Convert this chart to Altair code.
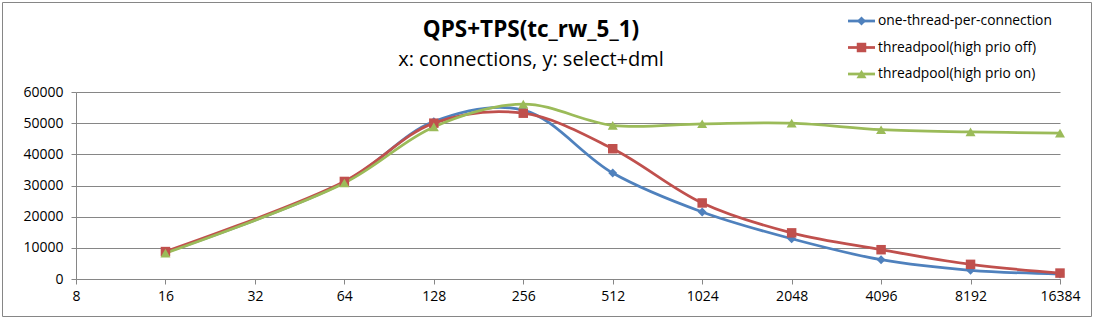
import altair as alt
import pandas as pd

connections = [16, 64, 128, 256, 512, 1024, 2048, 4096, 8192, 16384]
one_thread = [8500, 31000, 50500, 54200, 34000, 21500, 12900, 6200, 2800, 1600]
pool_off = [8800, 31300, 50000, 53200, 41800, 24400, 14800, 9400, 4700, 1900]
pool_on = [8300, 30800, 48800, 56100, 49300, 49800, 50000, 47900, 47200, 46800]
series_names = ["one-thread-per-connection", "threadpool(high prio off)", "threadpool(high prio on)"]
x_ticks = [8, 16, 32, 64, 128, 256, 512, 1024, 2048, 4096, 8192, 16384]
y_ticks = [0, 10000, 20000, 30000, 40000, 50000, 60000]
title_text = "QPS+TPS(tc_rw_5_1)"
subtitle_text = "x: connections, y: select+dml"

colors = ["#4F81BD", "#C0504D", "#9BBB59"]
shapes = ["diamond", "square", "triangle-up"]
sizes = [80, 100, 110]
FONT = "Open Sans"
GRID = "#868686"

rows = []
for name, vals in zip(series_names, [one_thread, pool_off, pool_on]):
    for c, v in zip(connections, vals):
        rows.append({"series": name, "connections": c, "qps": v})
df = pd.DataFrame(rows)
legend_df = pd.DataFrame({"series": series_names})

color_scale = alt.Scale(domain=series_names, range=colors)
shape_scale = alt.Scale(domain=series_names, range=shapes)
size_scale = alt.Scale(domain=series_names, range=sizes)

x_enc = alt.X("connections:Q",
              scale=alt.Scale(type="log", base=2, domain=[8, 16384], nice=False),
              axis=alt.Axis(values=x_ticks, format="d", title=None, grid=False,
                            tickSize=5, labelPadding=5, labelFlush=False,
                            labelFont=FONT, labelFontSize=14, labelColor="black",
                            domainColor=GRID, tickColor=GRID))
y_enc = alt.Y("qps:Q",
              scale=alt.Scale(domain=[0, 60000], nice=False),
              axis=alt.Axis(values=y_ticks, format="d", title=None, grid=True,
                            gridColor=GRID, gridWidth=1, tickSize=5, labelPadding=8,
                            labelFont=FONT, labelFontSize=14, labelColor="black",
                            domainColor=GRID, tickColor=GRID))

base = alt.Chart(df)
lines = base.mark_line(interpolate="catmull-rom", strokeWidth=2.75).encode(
    x=x_enc, y=y_enc,
    color=alt.Color("series:N", scale=color_scale, legend=None),
    detail="series:N",
)
points = base.mark_point(filled=True, opacity=1).encode(
    x=x_enc, y=y_enc,
    color=alt.Color("series:N", scale=color_scale, legend=None),
    shape=alt.Shape("series:N", scale=shape_scale, legend=None),
    size=alt.Size("series:O", scale=size_scale, legend=None),
)

leg_y = alt.Y("row:Q", scale=alt.Scale(domain=[1, 3], range=[-71, -18], nice=False, zero=False), axis=None)
leg_base = alt.Chart(legend_df).transform_window(row="row_number()")
leg_lines = leg_base.mark_rule(strokeWidth=2.75).encode(
    x=alt.value(772), x2=alt.value(799), y=leg_y,
    color=alt.Color("series:N", scale=color_scale, legend=None),
)
leg_points = leg_base.mark_point(filled=True, opacity=1).encode(
    x=alt.value(785.5), y=leg_y,
    color=alt.Color("series:N", scale=color_scale, legend=None),
    shape=alt.Shape("series:N", scale=shape_scale, legend=None),
    size=alt.Size("series:O", scale=size_scale, legend=None),
)
leg_text = leg_base.mark_text(align="left", baseline="middle", font=FONT, fontSize=13.8, color="black").encode(
    x=alt.value(802), y=leg_y, text="series:N",
)

title_df = pd.DataFrame({"t": [title_text]})
sub_df = pd.DataFrame({"t": [subtitle_text]})
title_mark = alt.Chart(title_df).mark_text(
    align="center", baseline="alphabetic", font=FONT, fontSize=22.5, fontWeight="bold", color="black"
).encode(x=alt.value(455), y=alt.value(-55), text="t:N")
sub_mark = alt.Chart(sub_df).mark_text(
    align="center", baseline="alphabetic", font=FONT, fontSize=20, color="black"
).encode(x=alt.value(455), y=alt.value(-26), text="t:N")

frame = alt.Chart(pd.DataFrame({"a": [0]})).mark_rect(fillOpacity=0, stroke=GRID, strokeWidth=1).encode(
    x=alt.value(-73.5), x2=alt.value(1015.5), y=alt.value(-89.5), y2=alt.value(224.5),
)

main = alt.layer(lines, points)
legend = alt.layer(leg_lines, leg_points, leg_text)

chart = alt.layer(frame, title_mark, sub_mark, main, legend).resolve_scale(y="independent").properties(
    width=984, height=187,
    background="white",
    autosize=alt.AutoSizeParams(type="none"),
    padding={"left": 76, "top": 92, "right": 35, "bottom": 41},
).configure_view(stroke=None)

chart.save("out.html", embed_options={"renderer": "svg", "actions": False})
